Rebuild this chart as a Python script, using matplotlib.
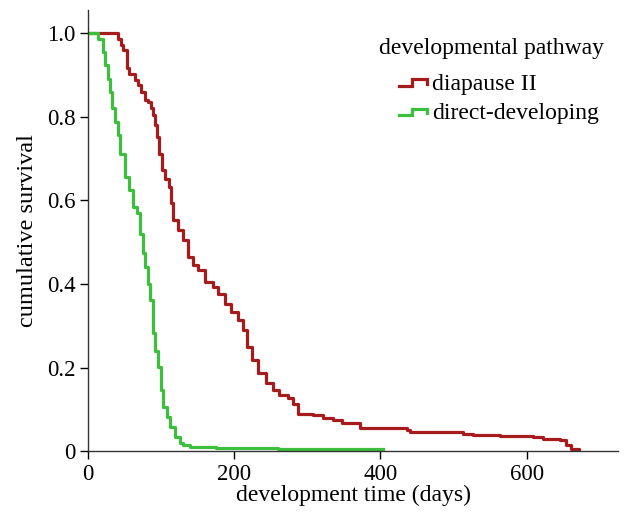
import matplotlib.pyplot as plt
from matplotlib.lines import Line2D
from matplotlib.legend_handler import HandlerBase

# Kaplan-Meier curves (time in days, cumulative survival)
diapause_t = [0, 41, 45, 48, 53, 54, 57, 64, 69, 73, 78, 82, 87, 89, 92, 95, 98,
              101, 105, 111, 114, 117, 123, 130, 137, 144, 151, 160, 171, 178, 187,
              196, 205, 212, 217, 224, 233, 244, 253, 262, 274, 280, 287, 308, 322,
              335, 348, 372, 436, 440, 513, 526, 563, 608, 622, 645, 654, 661, 672]
diapause_s = [1.0, 0.987, 0.971, 0.959, 0.939, 0.916, 0.903, 0.888, 0.876, 0.86,
              0.84, 0.836, 0.82, 0.804, 0.78, 0.752, 0.712, 0.672, 0.652, 0.632,
              0.593, 0.553, 0.529, 0.505, 0.465, 0.445, 0.433, 0.405, 0.393, 0.377,
              0.353, 0.333, 0.313, 0.289, 0.25, 0.218, 0.186, 0.162, 0.146, 0.134,
              0.126, 0.114, 0.09, 0.086, 0.08, 0.074, 0.067, 0.055, 0.05, 0.046,
              0.042, 0.038, 0.036, 0.034, 0.028, 0.026, 0.014, 0.005, 0.0]

direct_t = [0, 14, 21, 24, 27, 30, 33, 37, 41, 44, 51, 57, 62, 67, 71, 75, 78, 82,
            85, 89, 92, 96, 100, 103, 108, 112, 119, 126, 130, 140, 175, 260, 404]
direct_s = [1.0, 0.987, 0.955, 0.923, 0.89, 0.86, 0.82, 0.788, 0.756, 0.712, 0.656,
            0.624, 0.584, 0.569, 0.52, 0.473, 0.44, 0.401, 0.361, 0.282, 0.24,
            0.202, 0.146, 0.106, 0.082, 0.058, 0.034, 0.02, 0.014, 0.01, 0.007,
            0.004, 0.004]

series_labels = ['diapause II', 'direct-developing']
legend_title = 'developmental pathway'
colors = ['#a61c1c', '#3cbf3c']


class StepHandler(HandlerBase):
    def create_artists(self, legend, orig_handle, xdescent, ydescent,
                       width, height, fontsize, trans):
        x0, x1 = -xdescent, -xdescent + width
        xm = x0 + width * 0.45
        lo = -ydescent + height * 0.25
        hi = -ydescent + height * 0.65
        line = Line2D([x0, xm, xm, x1, x1], [lo, lo, hi, hi, hi - height * 0.25],
                      color=orig_handle.get_color(), lw=orig_handle.get_linewidth(),
                      solid_joinstyle='miter', transform=trans)
        return [line]


plt.rcParams['font.family'] = ['Liberation Serif', 'DejaVu Serif']

fig = plt.figure(figsize=(6.27, 5.15), dpi=100)
ax = fig.add_axes([0.140, 0.124, 0.846, 0.856])

h1, = ax.plot(diapause_t, diapause_s, drawstyle='steps-post', color=colors[0],
              lw=2.3, label=series_labels[0])
h2, = ax.plot(direct_t, direct_s, drawstyle='steps-post', color=colors[1],
              lw=2.3, label=series_labels[1])

ax.set_xlim(0, 725)
ax.set_ylim(0, 1.055)
ax.set_xticks([0, 200, 400, 600])
ax.set_yticks([0, 0.2, 0.4, 0.6, 0.8, 1.0])
ax.set_yticklabels(['0', '0.2', '0.4', '0.6', '0.8', '1.0'])
ax.tick_params(direction='out', length=6, width=1, labelsize=16.5, colors='black',
               pad=3)
ax.spines['top'].set_visible(False)
ax.spines['right'].set_visible(False)
for s in ['left', 'bottom']:
    ax.spines[s].set_linewidth(1)
    ax.spines[s].set_color('#333333')

ax.set_xlabel('development time (days)', fontsize=17, labelpad=0)
ax.set_ylabel('cumulative survival', fontsize=17.5, labelpad=6)

# legend title placed separately, entries below it
fig.text(0.784, 0.905, legend_title, fontsize=17, ha='center', va='center')
leg = fig.legend(handles=[h1, h2], loc='upper left', bbox_to_anchor=(0.636, 0.857),
                 frameon=False, fontsize=17, handler_map={Line2D: StepHandler()},
                 handlelength=1.2, handletextpad=0.2, labelspacing=0.33,
                 borderpad=0, borderaxespad=0)

fig.savefig('out.png', dpi=100)
